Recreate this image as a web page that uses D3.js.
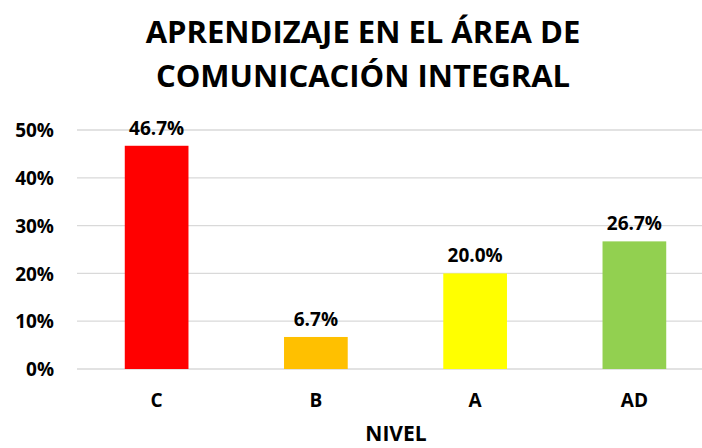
<!DOCTYPE html>
<html>
<head>
<meta charset="utf-8">
<script src="https://cdn.jsdelivr.net/npm/d3@7"></script>
<style>
  body { margin: 0; background: #fff; }
  text { font-family: "Open Sans", "DejaVu Sans", sans-serif; font-weight: bold; fill: #000; }
</style>
</head>
<body>
<div id="chart"></div>
<script>
// chart data
var niveles = ["C", "B", "A", "AD"];
var porcentajes = [46.7, 6.7, 20.0, 26.7];
var colores = ["#ff0000", "#ffc000", "#ffff00", "#92d050"];
var yTicks = [0, 10, 20, 30, 40, 50];
var tituloLineas = ["APRENDIZAJE EN EL ÁREA DE", "COMUNICACIÓN INTEGRAL"];

var svgWidth = 702;
var svgHeight = 448;

var margin = { top: 130, right: -12, bottom: 79, left: 77 };
var width = svgWidth - margin.left - margin.right;
var height = svgHeight - margin.top - margin.bottom;

var svg = d3.select("#chart")
  .append("svg")
  .attr("width", svgWidth)
  .attr("height", svgHeight);

// title
svg.append("g")
  .selectAll("text")
  .data(tituloLineas)
  .enter()
  .append("text")
  .attr("x", 363)
  .attr("y", (d, i) => 43 + i * 44)
  .attr("text-anchor", "middle")
  .style("font-size", "31px")
  .text(d => d);

var chartGroup = svg.append("g")
  .attr("transform", `translate(${margin.left}, ${margin.top})`);

var xScale = d3.scaleBand()
  .domain(niveles)
  .range([0, width])
  .paddingInner(0.6)
  .paddingOuter(0.3);

var yScale = d3.scaleLinear()
  .domain([0, 50])
  .range([height, 0]);

// gridlines
chartGroup.append("g")
  .selectAll("line")
  .data(yTicks)
  .enter()
  .append("line")
  .attr("x1", 0)
  .attr("x2", width)
  .attr("y1", d => yScale(d))
  .attr("y2", d => yScale(d))
  .attr("stroke", "#d9d9d9")
  .attr("stroke-width", 1.3);

// y axis labels
var yAxis = chartGroup.append("g")
  .attr("transform", "translate(-23,0)")
  .call(d3.axisLeft(yScale).tickValues(yTicks).tickFormat(d => d + "%").tickSize(0));
yAxis.select(".domain").remove();
yAxis.selectAll("text")
  .attr("x", 0)
  .attr("dy", "0.35em")
  .style("font-size", "19px")
  .style("font-family", null);

// x axis labels
var xAxis = chartGroup.append("g")
  .attr("transform", `translate(0, ${height})`)
  .call(d3.axisBottom(xScale).tickSize(0));
xAxis.select(".domain").remove();
xAxis.selectAll("text")
  .attr("y", 31)
  .attr("dy", "0.35em")
  .style("font-size", "19px")
  .style("font-family", null);

// bars
chartGroup.selectAll("rect")
  .data(niveles)
  .enter()
  .append("rect")
  .attr("x", d => xScale(d))
  .attr("y", (d, i) => yScale(porcentajes[i]))
  .attr("width", xScale.bandwidth())
  .attr("height", (d, i) => height - yScale(porcentajes[i]))
  .attr("fill", (d, i) => colores[i]);

// data labels
chartGroup.append("g")
  .selectAll("text")
  .data(niveles)
  .enter()
  .append("text")
  .attr("x", d => xScale(d) + xScale.bandwidth() / 2)
  .attr("y", (d, i) => yScale(porcentajes[i]) - 11)
  .attr("text-anchor", "middle")
  .style("font-size", "19px")
  .text((d, i) => porcentajes[i].toFixed(1) + "%");

// x axis title
svg.append("text")
  .attr("x", 396)
  .attr("y", 441)
  .attr("text-anchor", "middle")
  .style("font-size", "21px")
  .text("NIVEL");
</script>
</body>
</html>
